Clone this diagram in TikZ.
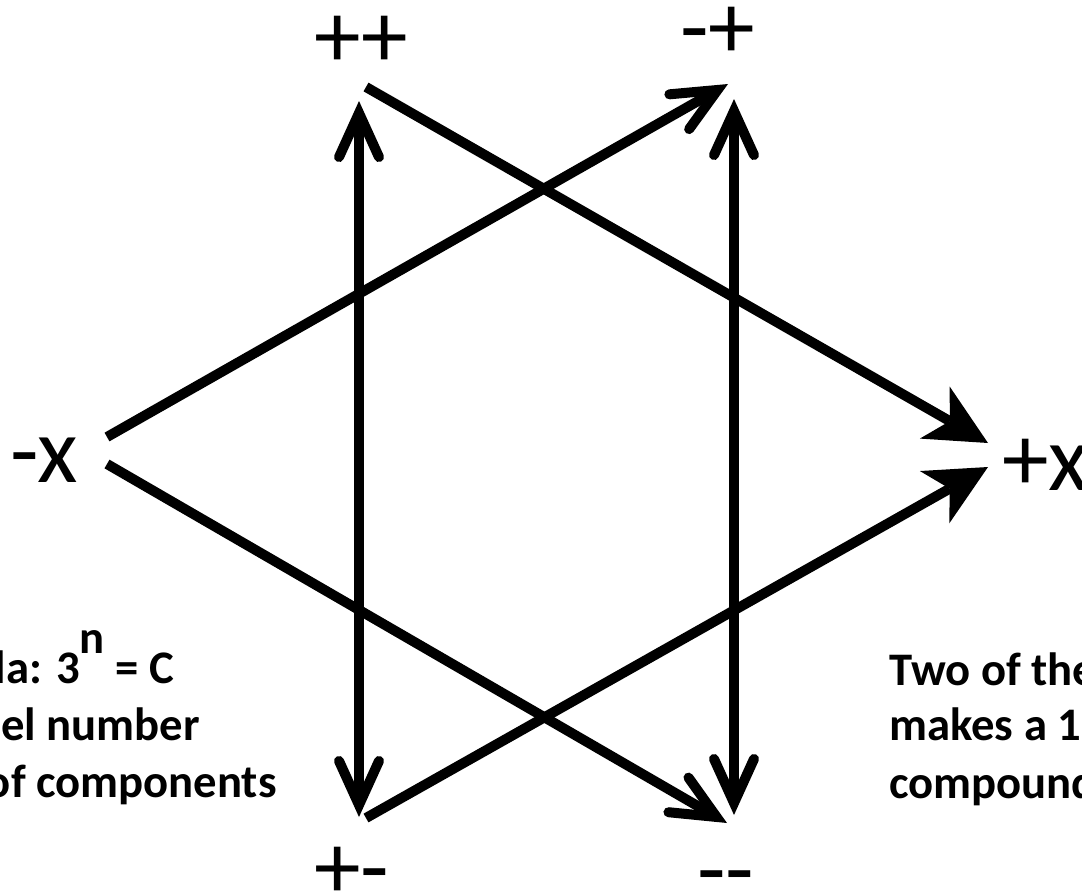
\documentclass[tikz,border=0pt]{standalone}
\usepackage{fontspec}
\setmainfont{Carlito}
\usetikzlibrary{arrows.meta}
\tikzset{
  openhead/.tip={Straight Barb[length=33pt,width=30pt,line cap=round,line join=miter]},
  fillhead/.tip={Stealth[length=46pt,width=45pt,inset=13pt,line width=0pt]},
  conn/.style={line width=7.5pt, line cap=butt, black},
  lab/.style={inner sep=0pt, font=\fontsize{70}{84}\selectfont},
  note/.style={inner sep=0pt, font=\bfseries\fontsize{35}{42}\selectfont},
}
\begin{document}
\begin{tikzpicture}[x=0.75pt,y=-0.75pt]
\useasboundingbox (0,0) rectangle (1082,890);
% vertex labels
\node[lab, anchor=base west] (pp) at (314,67) {++};
\node[lab, anchor=base west] (mp) at (680,58) {-+};
\node[lab, anchor=base west] (mx) at (10,482) {-x};
\node[lab, anchor=base west] (px) at (1002,490) {+x};
\node[lab, anchor=base west] (pm) at (314,898) {+-};
\node[lab, anchor=base west] (mm) at (697,900) {-{}-};
% connector end points
\coordinate (ppS) at (366,87);
\coordinate (pxA) at (988,443);
\coordinate (pmS) at (366,818);
\coordinate (pxB) at (988,467);
\coordinate (mxA) at (107,437);
\coordinate (mpT) at (728,84);
\coordinate (mxB) at (107,464);
\coordinate (mmT) at (727,823);
\coordinate (lTop) at (359,101);
\coordinate (lBot) at (359,817);
\coordinate (rTop) at (734,99);
\coordinate (rBot) at (734,815);
% connectors
\draw[conn, -{openhead}] (mxA) -- (mpT);
\draw[conn, -{openhead}] (mxB) -- (mmT);
\draw[conn, -{fillhead}] (ppS) -- (pxA);
\draw[conn, -{fillhead}] (pmS) -- (pxB);
\draw[conn, {openhead}-{openhead}] (lTop) -- (lBot);
\draw[conn, {openhead}-{openhead}] (rTop) -- (rBot);
% notes
\node[note, anchor=base east] (n1) at (174,683) {la: 3\raisebox{22.5pt}{n} = C};
\node[note, anchor=base east] (n2) at (200,740) {el number};
\node[note, anchor=base east] (n3) at (277,797) {of components};
\node[note, anchor=base west] (r1) at (889,685) {Two of the};
\node[note, anchor=base west] (r2) at (889,740) {makes a 1};
\node[note, anchor=base west] (r3) at (889,798) {compound};
\end{tikzpicture}
\end{document}
